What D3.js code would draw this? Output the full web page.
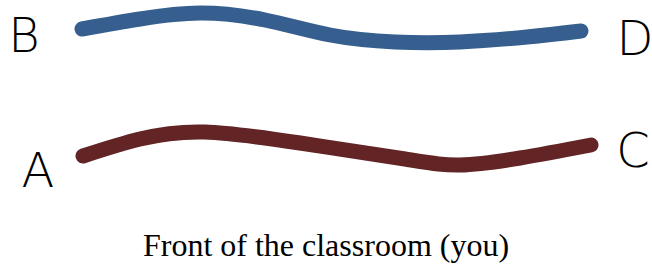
<!DOCTYPE html>
<html>
<head>
<meta charset="utf-8">
<script src="https://cdn.jsdelivr.net/npm/d3@7"></script>
<style>
  html, body { margin: 0; padding: 0; background: #fff; }
  svg { display: block; }
</style>
</head>
<body>
<svg id="chart" width="652" height="265"></svg>
<script>
// Back row (B → D) path, sampled along its length
const backX = [82, 140, 200, 265, 330, 395, 460, 527, 581];
const backY = [29, 19, 13, 20, 35, 42, 42, 37, 31];
// Front row (A → C) path
const frontX = [83, 140, 205, 300, 405, 460, 520, 591];
const frontY = [156, 139, 132, 143, 159, 165, 158, 145];
// Corner labels
const labelText = ["B", "D", "A", "C"];
const labelX = [24, 635, 38, 633];
const labelY = [52, 55, 187, 167];
const caption = "Front of the classroom (you)";

const svg = d3.select("#chart");
const W = 652, H = 265;
const x = d3.scaleLinear().domain([0, 652]).range([0, W]);
const y = d3.scaleLinear().domain([0, 265]).range([0, H]);

const line = d3.line()
  .x(d => x(d[0]))
  .y(d => y(d[1]))
  .curve(d3.curveNatural);

const rows = [
  { pts: d3.zip(backX, backY), color: "#365f8f" },
  { pts: d3.zip(frontX, frontY), color: "#632426" }
];

svg.selectAll("path.row")
  .data(rows)
  .join("path")
  .attr("class", "row")
  .attr("d", d => line(d.pts))
  .attr("fill", "none")
  .attr("stroke", d => d.color)
  .attr("stroke-width", 15)
  .attr("stroke-linecap", "round")
  .attr("stroke-linejoin", "round");

svg.selectAll("text.corner")
  .data(labelText)
  .join("text")
  .attr("class", "corner")
  .attr("x", (d, i) => x(labelX[i]))
  .attr("y", (d, i) => y(labelY[i]))
  .attr("text-anchor", "middle")
  .attr("font-family", "'DejaVu Sans', sans-serif")
  .attr("font-weight", 200)
  .attr("font-size", 48)
  .attr("fill", "#000")
  .text(d => d);

svg.append("text")
  .attr("x", x(326))
  .attr("y", y(256))
  .attr("text-anchor", "middle")
  .attr("font-family", "'Liberation Serif', 'Times New Roman', serif")
  .attr("font-size", 32)
  .attr("fill", "#000")
  .text(caption);
</script>
</body>
</html>
